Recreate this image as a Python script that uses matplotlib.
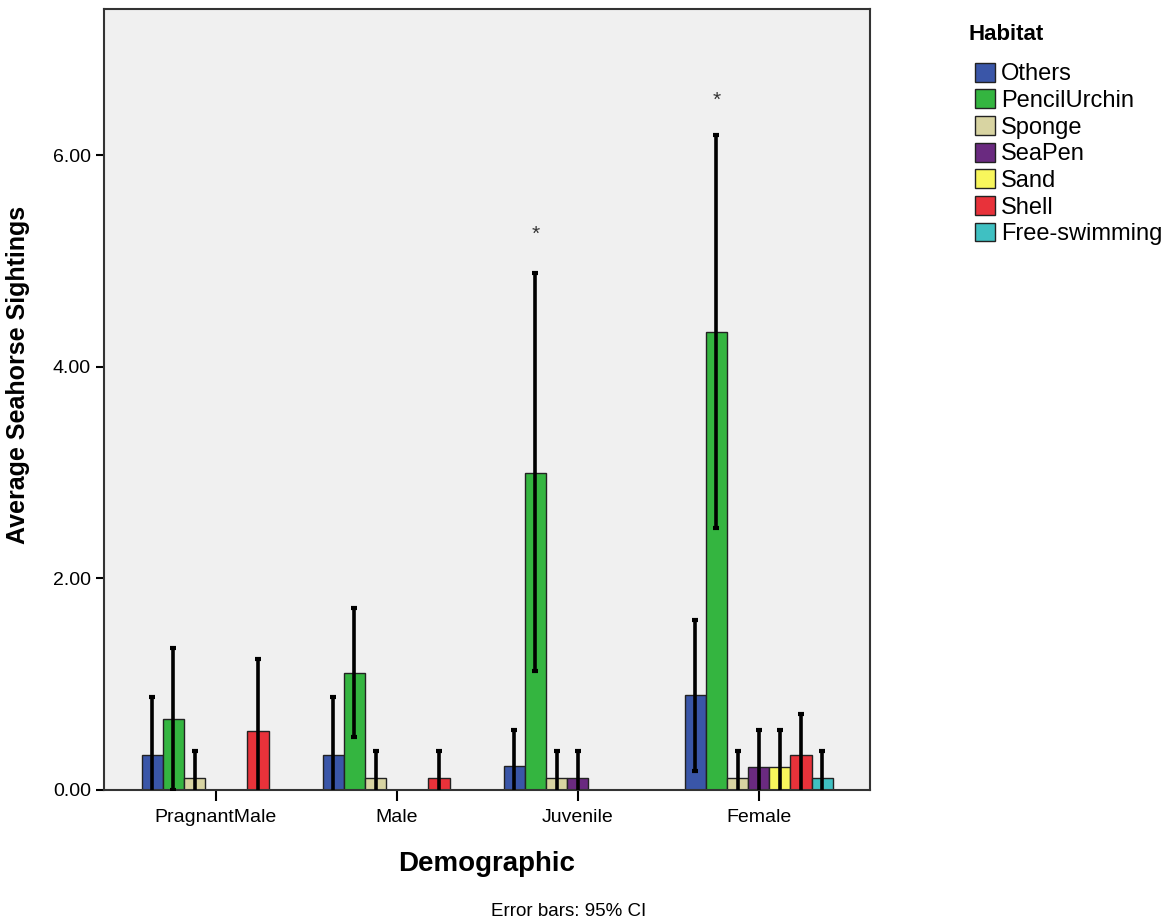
import numpy as np
import matplotlib.pyplot as plt
from matplotlib.ticker import FormatStrFormatter

plt.rcParams['font.family'] = ['Liberation Sans', 'DejaVu Sans']

demographics = ['PragnantMale', 'Male', 'Juvenile', 'Female']
habitats = ['Others', 'PencilUrchin', 'Sponge', 'SeaPen', 'Sand', 'Shell', 'Free-swimming']
colors = ['#3a56a8', '#34b540', '#d8d4a2', '#6a2a80', '#f8f65c', '#e8323a', '#3fc0c2']

# mean sightings per habitat, one value per demographic
means = {
    'Others':        [0.33, 0.33, 0.23, 0.90],
    'PencilUrchin':  [0.67, 1.11, 3.00, 4.33],
    'Sponge':        [0.11, 0.11, 0.11, 0.11],
    'SeaPen':        [0.00, 0.00, 0.11, 0.22],
    'Sand':          [0.00, 0.00, 0.00, 0.22],
    'Shell':         [0.56, 0.11, 0.00, 0.33],
    'Free-swimming': [0.00, 0.00, 0.00, 0.11],
}
# 95% CI bounds (nan = no error bar)
ci_low = {
    'Others':        [-0.22, -0.22, -0.11, 0.18],
    'PencilUrchin':  [0.00, 0.50, 1.12, 2.48],
    'Sponge':        [-0.15, -0.15, -0.15, -0.15],
    'SeaPen':        [np.nan, np.nan, -0.15, -0.13],
    'Sand':          [np.nan, np.nan, np.nan, -0.13],
    'Shell':         [-0.12, -0.15, np.nan, -0.05],
    'Free-swimming': [np.nan, np.nan, np.nan, -0.15],
}
ci_high = {
    'Others':        [0.88, 0.88, 0.57, 1.61],
    'PencilUrchin':  [1.34, 1.72, 4.89, 6.19],
    'Sponge':        [0.37, 0.37, 0.37, 0.37],
    'SeaPen':        [np.nan, np.nan, 0.37, 0.57],
    'Sand':          [np.nan, np.nan, np.nan, 0.57],
    'Shell':         [1.24, 0.37, np.nan, 0.72],
    'Free-swimming': [np.nan, np.nan, np.nan, 0.37],
}
# outlier asterisks: (demographic, habitat, y)
stars = [('Juvenile', 'PencilUrchin', 5.25), ('Female', 'PencilUrchin', 6.52)]

fig = plt.figure(figsize=(11.76, 9.24), dpi=100)
ax = fig.add_axes([104/1176, 1-790/924, 766/1176, 781/924])
ax.set_facecolor('#f0f0f0')

x = np.arange(len(demographics))
w = 0.117
for i, h in enumerate(habitats):
    xs = x + (i - 3) * w
    m = np.array(means[h])
    lo = np.array(ci_low[h])
    hi = np.array(ci_high[h])
    ax.bar(xs, m, width=w, color=colors[i], edgecolor='#222222', linewidth=1, label=h, zorder=2)
    ok = ~np.isnan(hi)
    ax.errorbar(xs[ok], m[ok], yerr=[m[ok] - lo[ok], hi[ok] - m[ok]], fmt='none',
                ecolor='black', elinewidth=2.6, capsize=2.5, capthick=3, zorder=3)

for d, h, yv in stars:
    xi = demographics.index(d) + (habitats.index(h) - 3) * w
    ax.text(xi, yv, '*', ha='center', va='center', fontsize=15, color='#333333')

ax.set_xlim(-0.617, 3.615)
ax.set_ylim(0, 7.38)
ax.set_xticks(x)
ax.set_xticklabels(demographics, fontsize=14)
ax.set_yticks([0, 2, 4, 6])
ax.yaxis.set_major_formatter(FormatStrFormatter('%.2f'))
ax.tick_params(axis='y', labelsize=14, length=6, width=1.5)
ax.tick_params(axis='x', length=8, width=1.5, pad=6)
for s in ax.spines.values():
    s.set_linewidth(1.5)
    s.set_color('#333333')

ax.set_xlabel('Demographic', fontsize=20, fontweight='bold', labelpad=18)
ax.set_ylabel('Average Seahorse Sightings', fontsize=18, fontweight='bold')
ax.yaxis.set_label_coords(-0.097, 0.531)

fig.text(569/1176, 12/924, 'Error bars: 95% CI', fontsize=13.5, ha='center', va='center')

fig.text(968/1176, 1-35/924, 'Habitat', fontsize=16, fontweight='bold', ha='left', va='center')
fig.legend(loc='upper left', bbox_to_anchor=(956/1176, 1-44/924), frameon=False,
           fontsize=17, labelspacing=0.17, handlelength=0.85, handleheight=0.85,
           handletextpad=0.25, borderpad=0.3)

fig.savefig('out.png', dpi=100)
